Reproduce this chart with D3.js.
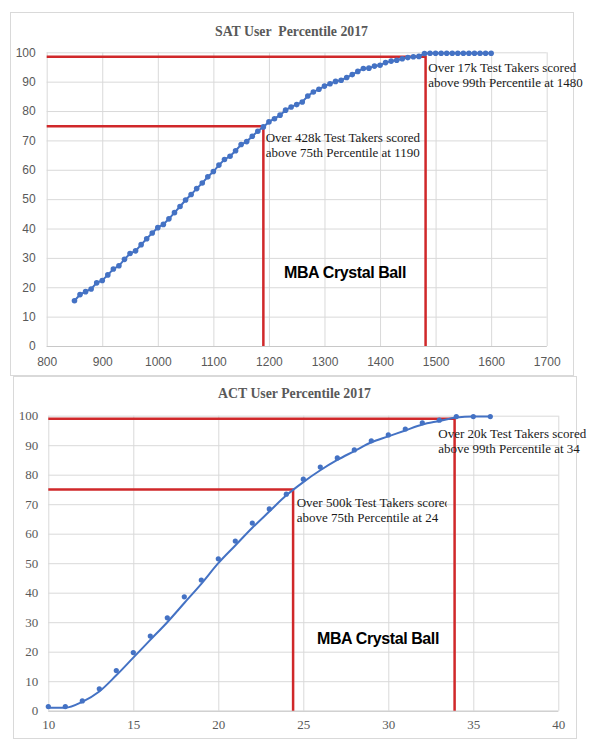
<!DOCTYPE html>
<html>
<head>
<meta charset="UTF-8">
<title>SAT / ACT User Percentile 2017</title>
<script src="https://d3js.org/d3.v7.min.js"></script>
<style>
  body { margin: 0; background: #fff; }
  svg { display: block; }
  .grid line { stroke: #d9d9d9; stroke-width: 1; }
  .grid .domain { display: none; }
  .frame { fill: none; stroke: #d9d9d9; stroke-width: 1; }
  .title { font-family: "Liberation Serif", "Times New Roman", serif; font-weight: bold; font-size: 13.8px; fill: #595959; white-space: pre; }
  .tick-sat text { font-family: "Liberation Sans", Arial, sans-serif; font-size: 12px; fill: #595959; }
  .tick-act text { font-family: "Liberation Serif", "Times New Roman", serif; font-size: 13px; fill: #595959; }
  .ticks .domain, .ticks line { display: none; }
  .baseline { stroke: #c8c8c8; stroke-width: 1; }
  .note { font-family: "Liberation Serif", "Times New Roman", serif; font-size: 13px; fill: #1a1a1a; }
  .brand { font-family: "Liberation Sans", Arial, sans-serif; font-weight: bold; font-size: 16px; letter-spacing: -0.4px; fill: #000; }
  .ref { stroke: #d0282a; stroke-width: 2.5; fill: none; }
  .curve { stroke: #4472c4; stroke-width: 2; fill: none; }
  .dot { fill: #4472c4; }
</style>
</head>
<body>
<script>
// ---- SAT data (score, percentile) ----
var satScores = [850, 860, 870, 880, 890, 900, 910, 920, 930, 940,
                 950, 960, 970, 980, 990, 1000, 1010, 1020, 1030, 1040,
                 1050, 1060, 1070, 1080, 1090, 1100, 1110, 1120, 1130, 1140,
                 1150, 1160, 1170, 1180, 1190, 1200, 1210, 1220, 1230, 1240,
                 1250, 1260, 1270, 1280, 1290, 1300, 1310, 1320, 1330, 1340,
                 1350, 1360, 1370, 1380, 1390, 1400, 1410, 1420, 1430, 1440,
                 1450, 1460, 1470, 1480, 1490, 1500, 1510, 1520, 1530, 1540,
                 1550, 1560, 1570, 1580, 1590, 1600];
var satPct = [15.4, 17.5, 18.5, 19.4, 21.5, 22.3, 24.2, 26.2, 27.3, 29.5,
              31.5, 32.4, 34.5, 36.5, 38.5, 40.3, 41.4, 43.3, 45.4, 47.5,
              49.7, 51.6, 53.6, 55.5, 57.6, 59.4, 61.6, 63.5, 64.6, 66.5,
              68.6, 69.6, 71.4, 73.1, 74.6, 76.3, 77.4, 78.6, 80.3, 81.4,
              82.2, 83.1, 85.1, 86.5, 87.4, 88.5, 89.3, 90.1, 90.5, 91.4,
              92.4, 93.5, 94.5, 94.6, 95.3, 95.6, 96.5, 97.0, 97.3, 97.8,
              98.2, 98.5, 98.6, 99.6, 99.7, 99.7, 99.7, 99.7, 99.7, 99.7,
              99.7, 99.7, 99.7, 99.7, 99.7, 99.7];
var satXTicks = [800, 900, 1000, 1100, 1200, 1300, 1400, 1500, 1600, 1700];
var satRefs = [[1190, 74.8], [1482, 98.5]];
var satNotes = [["Over 428k Test Takers scored", "above 75th Percentile at 1190"],
                ["Over 17k Test Takers scored", "above 99th Percentile at 1480"]];

// ---- ACT data (composite, percentile) ----
var actScores = [10, 11, 12, 13, 14, 15, 16, 17, 18, 19, 20, 21, 22, 23,
                 24, 25, 26, 27, 28, 29, 30, 31, 32, 33, 34, 35, 36];
var actPct = [1.4, 1.4, 3.3, 7.4, 13.6, 19.7, 25.3, 31.5, 38.6, 44.3, 51.5, 57.5, 63.6, 68.4,
              73.4, 78.5, 82.6, 85.7, 88.4, 91.5, 93.5, 95.5, 97.6, 98.5, 99.7, 99.7, 99.7];
var actFit = [1.0, 1.0, 3.0, 6.5, 12.0, 18.0, 24.0, 30.0, 36.5, 43.0, 50.0, 56.0, 62.0, 67.5,
              73.0, 77.5, 81.5, 85.0, 88.0, 91.0, 93.0, 95.0, 97.0, 98.2, 99.4, 99.7, 99.7];
var actXTicks = [10, 15, 20, 25, 30, 35, 40];
var actRefs = [[24.4, 75], [33.9, 99]];
var actNotes = [["Over 500k Test Takers scored", "above 75th Percentile at 24"],
                ["Over 20k Test Takers scored", "above 99th Percentile at 34"]];

var yTicks = [0, 10, 20, 30, 40, 50, 60, 70, 80, 90, 100];

var svg = d3.select("body").append("svg")
    .attr("width", 597)
    .attr("height", 748);

var defs = svg.append("defs");

function drawChart(c) {
  var g = svg.append("g");

  g.append("rect").attr("class", "frame")
    .attr("x", c.frame[0] + 0.5).attr("y", c.frame[1] + 0.5)
    .attr("width", c.frame[2]).attr("height", c.frame[3]);

  g.append("text").attr("class", "title")
    .attr("x", c.frame[0] + c.frame[2] / 2).attr("y", c.titleY)
    .attr("text-anchor", "middle")
    .text(c.title);

  var x = d3.scaleLinear().domain(c.xDomain).range([c.left, c.right]);
  var y = d3.scaleLinear().domain([0, 100]).range([c.bottom, c.top]);

  // gridlines
  g.append("g").attr("class", "grid")
    .attr("transform", "translate(0," + c.bottom + ")")
    .call(d3.axisBottom(x).tickValues(c.xTicks).tickSize(-(c.bottom - c.top)).tickFormat(""));
  g.append("g").attr("class", "grid")
    .attr("transform", "translate(" + c.left + ",0)")
    .call(d3.axisLeft(y).tickValues(yTicks).tickSize(-(c.right - c.left)).tickFormat(""));

  g.append("line").attr("class", "baseline")
    .attr("x1", c.left).attr("x2", c.right)
    .attr("y1", c.bottom + 0.5).attr("y2", c.bottom + 0.5);

  // tick labels
  g.append("g").attr("class", "ticks " + c.tickClass)
    .attr("transform", "translate(0," + c.bottom + ")")
    .call(d3.axisBottom(x).tickValues(c.xTicks).tickFormat(d3.format("d"))
      .tickSize(0).tickPadding(c.xPad));
  g.append("g").attr("class", "ticks " + c.tickClass)
    .attr("transform", "translate(" + c.left + ",0)")
    .call(d3.axisLeft(y).tickValues(yTicks).tickFormat(d3.format("d"))
      .tickSize(0).tickPadding(c.yPad));

  // reference lines: horizontal from the y axis, then down to the x axis
  c.refs.forEach(function (r) {
    g.append("path").attr("class", "ref")
      .attr("d", "M" + c.left + "," + y(r[1]) + "H" + x(r[0]) + "V" + c.bottom);
  });

  // curve + markers
  var pts = c.scores.map(function (s, i) { return [s, c.fit[i]]; });
  g.append("path").attr("class", "curve")
    .attr("d", d3.line().x(function (d) { return x(d[0]); })
      .y(function (d) { return y(d[1]); }).curve(c.curve)(pts));

  g.selectAll(".dot-" + c.id).data(c.scores).enter().append("circle")
    .attr("class", "dot")
    .attr("cx", function (d) { return x(d); })
    .attr("cy", function (d, i) { return y(c.pct[i]); })
    .attr("r", c.r);

  // annotations
  c.notes.forEach(function (lines, i) {
    var p = c.notePos[i];
    var t = g.append("text").attr("class", "note");
    if (p[2]) {
      var id = "clip-" + c.id + i;
      defs.append("clipPath").attr("id", id).append("rect")
        .attr("x", p[0] - 2).attr("y", p[1] - 16).attr("width", p[2]).attr("height", 40);
      t.attr("clip-path", "url(#" + id + ")");
    }
    lines.forEach(function (l, k) {
      t.append("tspan").attr("x", p[0]).attr("y", p[1] + k * 15).text(l);
    });
  });

  g.append("text").attr("class", "brand")
    .attr("x", c.brand[0]).attr("y", c.brand[1])
    .attr("text-anchor", "middle").attr("dominant-baseline", "central")
    .text("MBA Crystal Ball");
}

drawChart({
  id: "sat",
  frame: [10, 12, 563, 363],
  title: "SAT User  Percentile 2017",
  titleY: 35.5,
  left: 46.7, right: 546.7, top: 52.3, bottom: 346,
  xDomain: [800, 1700], xTicks: satXTicks,
  tickClass: "tick-sat", xPad: 11, yPad: 11,
  scores: satScores, pct: satPct, fit: satPct,
  curve: d3.curveLinear, r: 2.8,
  refs: satRefs,
  notes: satNotes,
  notePos: [[265.7, 141.5], [428.3, 72]],
  brand: [345, 272]
});

drawChart({
  id: "act",
  frame: [13, 376, 563, 362],
  title: "ACT User Percentile 2017",
  titleY: 398,
  left: 48.3, right: 558.3, top: 415.7, bottom: 710.7,
  xDomain: [10, 40], xTicks: actXTicks,
  tickClass: "tick-act", xPad: 9, yPad: 10,
  scores: actScores, pct: actPct, fit: actFit,
  curve: d3.curveMonotoneX, r: 2.6,
  refs: actRefs,
  notes: actNotes,
  notePos: [[296.7, 506.5, 152], [438.3, 437.5]],
  brand: [378, 638]
});
</script>
</body>
</html>
